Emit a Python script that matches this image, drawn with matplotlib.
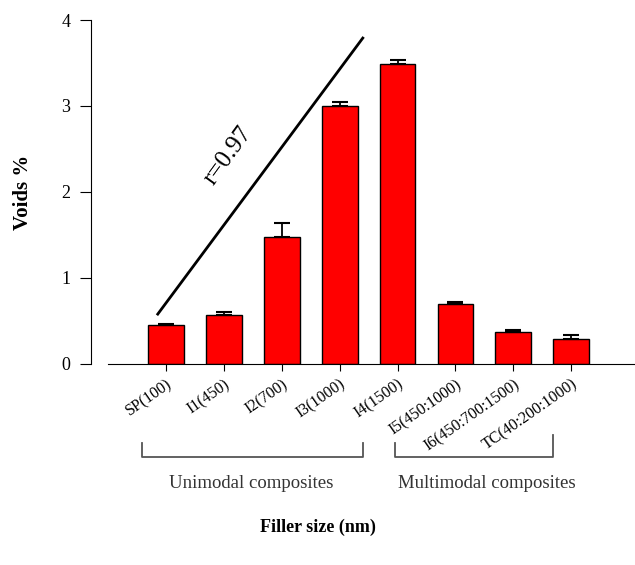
import matplotlib.pyplot as plt
from matplotlib.transforms import blended_transform_factory

plt.rcParams['font.family'] = ['Liberation Serif', 'DejaVu Serif']

labels = ["SP(100)", "I1(450)", "I2(700)", "I3(1000)", "I4(1500)",
          "I5(450:1000)", "I6(450:700:1500)", "TC(40:200:1000)"]
voids = [0.45, 0.57, 1.48, 3.00, 3.49, 0.70, 0.37, 0.29]
errors = [0.02, 0.03, 0.16, 0.05, 0.04, 0.02, 0.03, 0.05]

fig = plt.figure(figsize=(6.35, 5.65), dpi=100)
ax = fig.add_axes([0.170, 0.3558, 0.830, 0.6088])

x = list(range(len(labels)))
ax.bar(x, voids, width=0.62, color="#ff0000", edgecolor="black", linewidth=1,
       yerr=[[0] * len(errors), errors], capsize=6,
       error_kw=dict(ecolor="black", elinewidth=1.3, capthick=1.5))

# trend line for the unimodal fillers
ax.plot([-0.14, 3.40], [0.58, 3.79], color="black", lw=2)
ax.text(1.08, 2.42, "r=0.97", rotation=54, fontsize=18, ha="center", va="center")

ax.set_xlim(-1.0, 8.1)
ax.set_ylim(0, 4)
ax.set_yticks([0, 1, 2, 3, 4])
ax.set_xticks(x)
ax.set_xticklabels(labels, rotation=35, ha="right", rotation_mode="anchor", fontsize=11.5)
ax.tick_params(axis="y", labelsize=13, length=8, direction="out", pad=7)
ax.tick_params(axis="x", length=5, direction="out", pad=4)

ax.spines["top"].set_visible(False)
ax.spines["right"].set_visible(False)
ax.spines["left"].set_position(("outward", 12))
ax.spines["left"].set_bounds(0, 4)

# group brackets
tr = blended_transform_factory(ax.transData, fig.transFigure)
def fy(p):
    return 1 - p / 565

gc = "#555555"
ax.plot([-0.41, -0.41, 3.41, 3.41], [fy(443), fy(457), fy(457), fy(443)],
        color=gc, lw=1.3, transform=tr, clip_on=False)
ax.plot([3.95, 3.95, 6.69, 6.69], [fy(443), fy(457), fy(457), fy(435)],
        color=gc, lw=1.3, transform=tr, clip_on=False)
ax.text(1.47, fy(484), "Unimodal composites", transform=tr, ha="center", va="center",
        fontsize=13.5, color="#333333")
ax.text(5.55, fy(484), "Multimodal composites", transform=tr, ha="center", va="center",
        fontsize=13.5, color="#333333")

fig.text(318 / 635, fy(527), "Filler size (nm)", ha="center", va="center",
         fontsize=13, fontweight="bold")
fig.text(23 / 635, fy(192), "Voids %", ha="center", va="center", rotation=90,
         fontsize=15, fontweight="bold")

fig.savefig("out.png", dpi=100)
